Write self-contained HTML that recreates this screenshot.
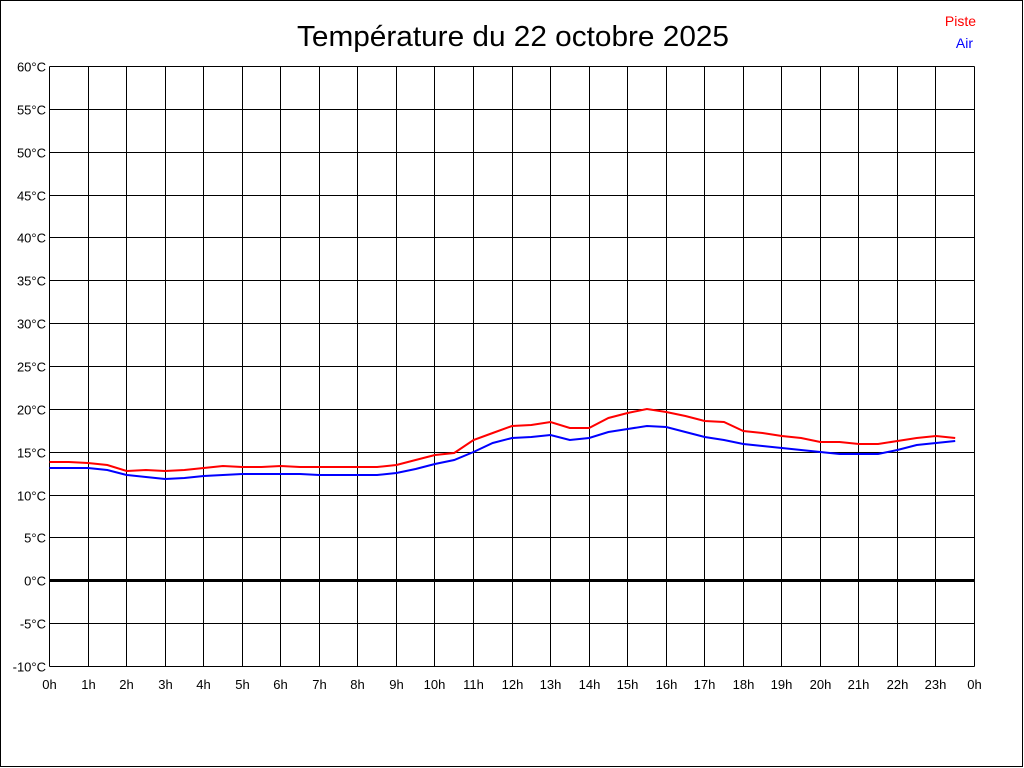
<!DOCTYPE html>
<html><head><meta charset="utf-8"><style>
html,body{margin:0;padding:0;background:#fff}
svg{display:block}
text{font-family:"Liberation Sans",Arial,sans-serif}
</style></head><body>
<svg id="s" width="1024" height="768" xmlns="http://www.w3.org/2000/svg">
<rect x="0.5" y="0.5" width="1022" height="766" fill="#fff" stroke="#000" shape-rendering="crispEdges"/>
<text x="513" y="46" font-size="29" text-anchor="middle" textLength="432" lengthAdjust="spacingAndGlyphs">Température du 22 octobre 2025</text>
<text x="976" y="26" font-size="14" fill="#f00" text-anchor="end">Piste</text>
<text x="973" y="48" font-size="14" fill="#00f" text-anchor="end">Air</text>
<g id="g"></g>
</svg>
<script>
var g=document.getElementById('g'),ns='http://www.w3.org/2000/svg';
var L=49.5,R=974.5,T=66.5,B=666.5,dx=(R-L)/24,dy=(B-T)/70;
function el(n,a,t){var e=document.createElementNS(ns,n);for(var k in a)e.setAttribute(k,a[k]);if(t!=null)e.textContent=t;g.appendChild(e);return e;}
for(var i=0;i<=24;i++){var x=Math.round(L+i*dx-0.5)+0.5;el('line',{x1:x,y1:T,x2:x,y2:B,stroke:'#000','shape-rendering':'crispEdges'});el('text',{x:x,y:689,'font-size':13,'text-anchor':'middle'},(i%24)+'h');}
for(var v=-10;v<=60;v+=5){var y=Math.round(B-(v+10)*dy-0.5)+0.5;el('line',{x1:L,y1:y,x2:R,y2:y,stroke:'#000','stroke-width':v==0?3:1,'shape-rendering':'crispEdges'});el('text',{x:46,y:y+5,'font-size':13,'text-anchor':'end'},v+'°C');}
var red=[462,462,463,465,471,470,471,470,468,466,467,467,466,467,467,467,467,467,465,460,455,453,440,433,426,425,422,428,428,418,413,409,412,416,421,422,431,433,436,438,442,442,444,444,441,438,436,438];
var blue=[468,468,468,470,475,477,479,478,476,475,474,474,474,474,475,475,475,475,473,469,464,460,452,443,438,437,435,440,438,432,429,426,427,432,437,440,444,446,448,450,452,454,454,454,450,445,443,441];
function line(d,c){var p=d.map(function(y,i){return (L+i*dx/2).toFixed(1)+','+y}).join(' ');el('polyline',{points:p,fill:'none',stroke:c,'stroke-width':2});}
line(red,'#f00');line(blue,'#00f');
</script>
</body></html>
